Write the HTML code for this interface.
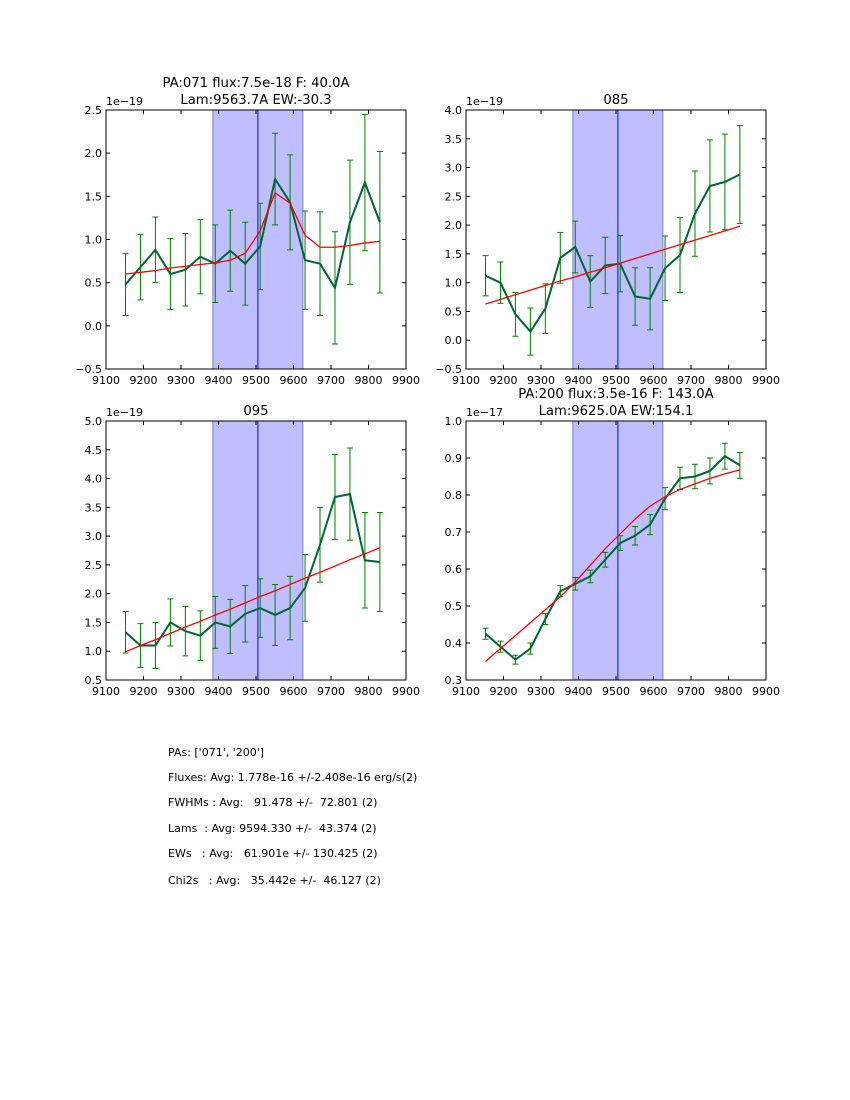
<!DOCTYPE html>
<html><head><meta charset="utf-8"><style>
body{margin:0;background:#fff;}
svg{display:block;font-family:"DejaVu Sans","Liberation Sans",sans-serif;}
</style></head><body>
<svg id="fig" width="850" height="1100" viewBox="0 0 850 1100" xmlns="http://www.w3.org/2000/svg">
<rect width="850" height="1100" fill="#fff"/>
<g font-size="11" fill="#000">
<text x="168" y="756" xml:space="preserve">PAs: ['071', '200']</text>
<text x="168" y="781" xml:space="preserve">Fluxes: Avg: 1.778e-16 +/-2.408e-16 erg/s(2)</text>
<text x="168" y="806" xml:space="preserve">FWHMs : Avg:   91.478 +/-  72.801 (2)</text>
<text x="168" y="832" xml:space="preserve">Lams  : Avg: 9594.330 +/-  43.374 (2)</text>
<text x="168" y="857" xml:space="preserve">EWs   : Avg:   61.901e +/- 130.425 (2)</text>
<text x="168" y="884" xml:space="preserve">Chi2s   : Avg:   35.442e +/-  46.127 (2)</text>
</g>
</svg>
<script>
const lam0 = 9152, lamStep = 39.9;
const p1Vals = [0.48,0.68,0.88,0.6,0.65,0.8,0.72,0.87,0.72,0.92,1.7,1.43,0.76,0.72,0.44,1.2,1.66,1.2];
const p1Errs = [0.36,0.38,0.38,0.41,0.42,0.43,0.45,0.47,0.48,0.5,0.53,0.55,0.57,0.6,0.65,0.72,0.79,0.82];
const p1Fit = [0.6,0.62,0.64,0.67,0.69,0.71,0.73,0.76,0.84,1.1,1.54,1.42,1.05,0.91,0.91,0.93,0.96,0.98];
const p2Vals = [1.12,1.0,0.45,0.15,0.55,1.43,1.62,1.02,1.3,1.33,0.76,0.72,1.25,1.48,2.2,2.68,2.75,2.88];
const p2Errs = [0.35,0.36,0.38,0.41,0.43,0.44,0.45,0.45,0.49,0.49,0.5,0.54,0.56,0.65,0.74,0.8,0.83,0.85];
const p2Fit = [0.63,0.71,0.79,0.87,0.95,1.03,1.1,1.18,1.26,1.34,1.42,1.5,1.58,1.66,1.74,1.82,1.9,1.98];
const p3Vals = [1.33,1.1,1.1,1.5,1.35,1.27,1.5,1.43,1.65,1.75,1.63,1.75,2.1,2.85,3.68,3.73,2.58,2.55];
const p3Errs = [0.36,0.38,0.4,0.41,0.43,0.43,0.45,0.47,0.49,0.51,0.53,0.55,0.58,0.65,0.74,0.8,0.83,0.86];
const p3Fit = [0.99,1.1,1.2,1.31,1.42,1.52,1.63,1.73,1.84,1.95,2.05,2.16,2.27,2.37,2.48,2.59,2.69,2.8];
const p4Vals = [0.425,0.39,0.355,0.385,0.465,0.54,0.56,0.58,0.625,0.67,0.69,0.72,0.79,0.845,0.85,0.865,0.905,0.88];
const p4Errs = [0.015,0.015,0.012,0.015,0.015,0.015,0.017,0.017,0.02,0.02,0.025,0.027,0.03,0.03,0.033,0.035,0.035,0.035];
const p4Fit = [0.35,0.385,0.42,0.455,0.49,0.525,0.565,0.61,0.655,0.695,0.735,0.77,0.795,0.815,0.83,0.845,0.857,0.868];
const xTicks = [9100,9200,9300,9400,9500,9600,9700,9800,9900];
const bandLo = 9385, bandHi = 9625, lineLam = 9505;

const NS="http://www.w3.org/2000/svg";
const fig=document.getElementById('fig');
function mk(tag,parent,attrs){const e=document.createElementNS(NS,tag);for(const k in attrs)e.setAttribute(k,attrs[k]);parent.appendChild(e);return e;}

const panels=[
 {name:'panel-071',x0:106,y0:110,vals:p1Vals,errs:p1Errs,fit:p1Fit,ymin:-0.5,ymax:2.5,yt:[-0.5,0,0.5,1,1.5,2,2.5],dec:1,exp:'1e\u221219',title:['PA:071 flux:7.5e-18 F: 40.0A','Lam:9563.7A EW:-30.3']},
 {name:'panel-085',x0:466,y0:110,vals:p2Vals,errs:p2Errs,fit:p2Fit,ymin:-0.5,ymax:4.0,yt:[-0.5,0,0.5,1,1.5,2,2.5,3,3.5,4],dec:1,exp:'1e\u221219',title:['085']},
 {name:'panel-095',x0:106,y0:421,vals:p3Vals,errs:p3Errs,fit:p3Fit,ymin:0.5,ymax:5.0,yt:[0.5,1,1.5,2,2.5,3,3.5,4,4.5,5],dec:1,exp:'1e\u221219',title:['095']},
 {name:'panel-200',x0:466,y0:421,vals:p4Vals,errs:p4Errs,fit:p4Fit,ymin:0.3,ymax:1.0,yt:[0.3,0.4,0.5,0.6,0.7,0.8,0.9,1.0],dec:1,exp:'1e\u221217',title:['PA:200 flux:3.5e-16 F: 143.0A','Lam:9625.0A EW:154.1']}
];
const W=300,H=259;
panels.forEach(p=>{
 const g=mk('g',fig,{});
 
 
 const xs=v=>p.x0+(v-9100)/800*W;
 const ys=v=>p.y0+H-(v-p.ymin)/(p.ymax-p.ymin)*H;
 const band=mk('rect',g,{x:xs(bandLo),y:p.y0,width:xs(bandHi)-xs(bandLo),height:H,fill:'#bfbfff',stroke:'#8080c0','stroke-width':1});
 
 
 const cl=mk('line',g,{x1:xs(lineLam),x2:xs(lineLam),y1:p.y0,y2:p.y0+H,stroke:'#0000ff','stroke-width':1});
 
 
 const lams=p.vals.map((_,i)=>lam0+i*lamStep);
 p.vals.forEach((v,i)=>{
  const x=xs(lams[i]),a=ys(v-p.errs[i]),b=ys(v+p.errs[i]);
  const eb=mk('path',g,{d:`M${x},${a}V${b}M${x-3},${a}h6M${x-3},${b}h6`,stroke:'#008000','stroke-width':1,fill:'none'});
  
  
 });
 const dl=mk('polyline',g,{points:p.vals.map((v,i)=>xs(lams[i])+','+ys(v)).join(' '),fill:'none',stroke:'#006633','stroke-width':2});
 
 
 const fl=mk('polyline',g,{points:p.fit.map((v,i)=>xs(lams[i])+','+ys(v)).join(' '),fill:'none',stroke:'#ff0000','stroke-width':1.3});
 
 
 const fr=mk('rect',g,{x:p.x0,y:p.y0,width:W,height:H,fill:'none',stroke:'#000','stroke-width':1});
 
 
 xTicks.forEach(t=>{
  const x=xs(t);
  mk('path',g,{d:`M${x},${p.y0+H}v-4M${x},${p.y0}v4`,stroke:'#000'});
  const tx=mk('text',g,{x:x,y:p.y0+H+15,'font-size':11,'text-anchor':'middle'});
  tx.textContent=t;
  
  
 });
 p.yt.forEach(t=>{
  const y=ys(t);
  mk('path',g,{d:`M${p.x0},${y}h4M${p.x0+W},${y}h-4`,stroke:'#000'});
  const ty=mk('text',g,{x:p.x0-4,y:y+4,'font-size':11,'text-anchor':'end'});
  ty.textContent=(t<0?'\u2212':'')+Math.abs(t).toFixed(p.dec);
  
  
 });
 const ex=mk('text',g,{x:p.x0,y:p.y0-5,'font-size':11});
 ex.textContent=p.exp;
 
 
 p.title.forEach((s,i)=>{
  const n=p.title.length;
  const tt=mk('text',g,{x:p.x0+W/2,y:p.y0-6-(n-1-i)*17,'font-size':13.2,'text-anchor':'middle'});
  tt.textContent=s;
  
  
 });
});
</script>
</body></html>
